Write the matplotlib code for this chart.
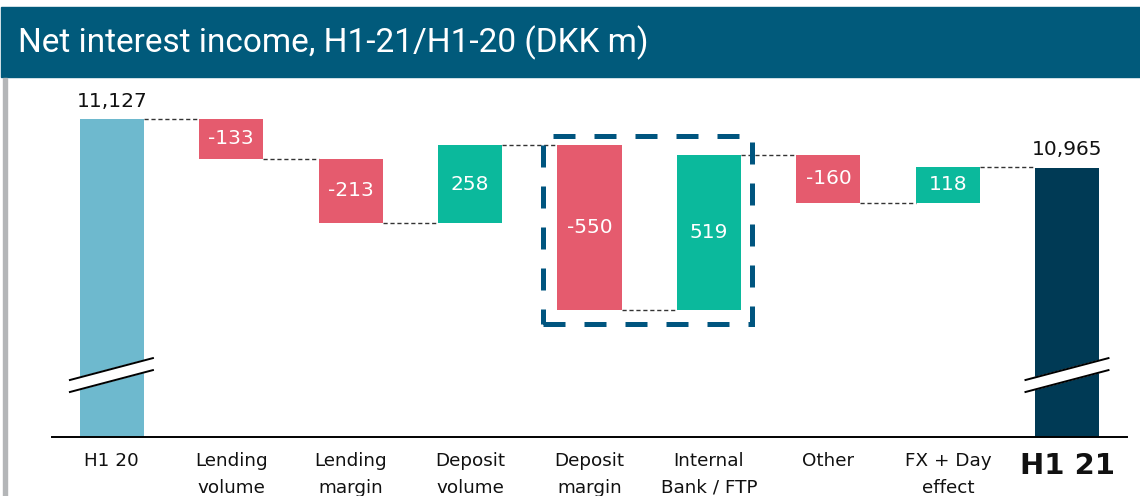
import matplotlib
matplotlib.use("Agg")
import matplotlib.pyplot as plt
from matplotlib.patches import Rectangle, Polygon

# waterfall data, DKK m
categories = ["H1 20", "Lending\nvolume", "Lending\nmargin", "Deposit\nvolume",
              "Deposit\nmargin", "Internal\nBank / FTP", "Other", "FX + Day\neffect", "H1 21"]
start_total = 11127
changes = [-133, -213, 258, -550, 519, -160, 118]
end_total = 10965
start_label = "11,127"
end_label = "10,965"

c_start = "#6EB9CE"
c_neg = "#E55B6E"
c_pos = "#0BB99C"
c_end = "#003A55"
c_box = "#00557F"
c_head = "#015A7B"

fig = plt.figure(figsize=(11.4, 4.96), dpi=100)
W, H = 1140, 496

# header bar + left grey rule
fig.patches.append(Rectangle((1 / W, 1 - 77 / H), 1, 70 / H, transform=fig.transFigure,
                             color=c_head, zorder=0))
fig.patches.append(Rectangle((3 / W, 0), 4 / W, 1 - 78 / H, transform=fig.transFigure,
                             color="#B4B6B8", zorder=0))
fig.text(18 / W, 1 - 43 / H, "Net interest income, H1-21/H1-20 (DKK m)", color="white",
         fontsize=24, family="Roboto", va="center", ha="left")

ax = fig.add_axes([52 / W, 59 / H, 1075 / W, 357 / H])
ymin, ymax = 10067, 11257
ax.set_xlim(-0.5, len(categories) - 0.5)
ax.set_ylim(ymin, ymax)
bw = 0.536

# totals
ax.bar(0, start_total - ymin, bottom=ymin, width=bw, color=c_start, zorder=2)
ax.bar(len(categories) - 1, end_total - ymin, bottom=ymin, width=bw, color=c_end, zorder=2)
ax.annotate(start_label, (0, start_total), xytext=(0, 6), textcoords="offset points",
            ha="center", va="bottom", fontsize=14.5, color="#111111")
ax.annotate(end_label, (len(categories) - 1, end_total), xytext=(0, 6), textcoords="offset points",
            ha="center", va="bottom", fontsize=14.5, color="#111111")

# deltas + connectors
level = start_total
levels = [level]
for i, d in enumerate(changes, start=1):
    new = level + d
    ax.bar(i, abs(d), bottom=min(level, new), width=bw,
           color=c_pos if d > 0 else c_neg, zorder=2)
    ax.text(i, (level + new) / 2, str(d), ha="center", va="center", color="white",
            fontsize=14.5, zorder=3)
    level = new
    levels.append(level)

for i, lv in enumerate(levels):
    ax.plot([i + bw / 2, i + 1 - bw / 2], [lv, lv], color="#333333", lw=1.0,
            ls=(0, (3, 2)), zorder=1)

# axis break marks on the two total bars
for xc in (0, len(categories) - 1):
    x0, x1 = xc - 0.35, xc + 0.345
    ax.add_patch(Polygon([(x0, 10217), (x1, 10290), (x1, 10330), (x0, 10257)],
                         closed=True, color="white", zorder=4, clip_on=False))
    ax.plot([x0, x1], [10257, 10330], color="black", lw=1.4, zorder=5)
    ax.plot([x0, x1], [10217, 10290], color="black", lw=1.4, zorder=5)

# highlight box around deposit margin / internal bank
ax.add_patch(Rectangle((3.61, 10444), 5.36 - 3.61, 11070 - 10444, fill=False,
                       edgecolor=c_box, lw=3.6, ls=(0, (4.4, 3.8)), zorder=6))

for s in ("top", "right", "left"):
    ax.spines[s].set_visible(False)
ax.spines["bottom"].set_linewidth(1.4)
ax.set_yticks([])
ax.set_xticks(range(len(categories)))
ax.set_xticklabels(categories, fontsize=13.2, linespacing=1.6, color="#111111")
ax.tick_params(axis="x", length=0, pad=11)
last = ax.get_xticklabels()[-1]
last.set_fontsize(21)
last.set_fontweight("bold")

fig.savefig("out.png", dpi=100)
